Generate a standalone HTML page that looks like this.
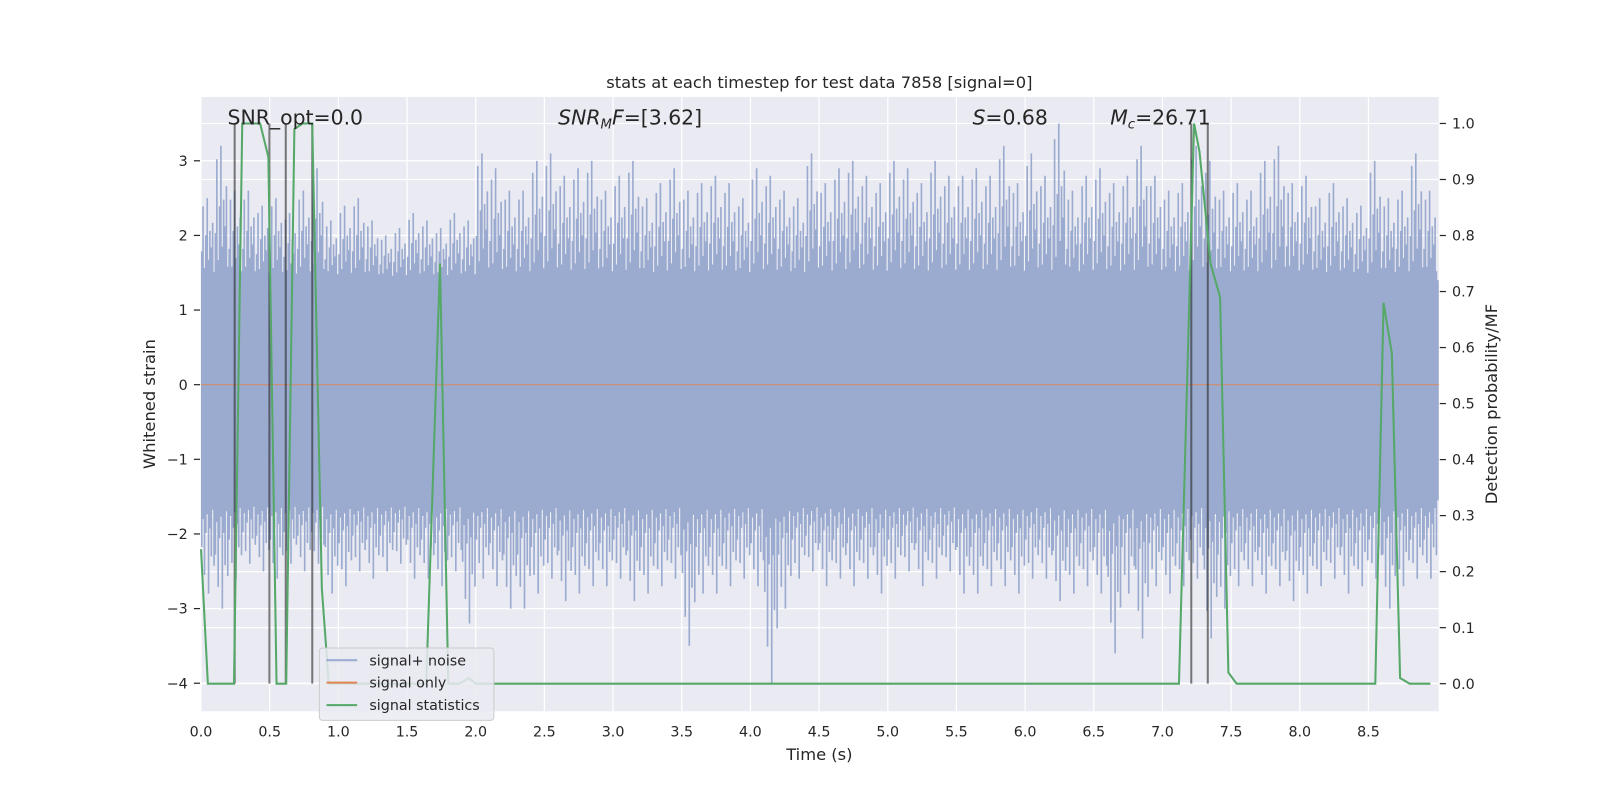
<!DOCTYPE html>
<html><head><meta charset="utf-8"><style>
html,body{margin:0;padding:0;background:#fff;overflow:hidden;width:1600px;height:800px}
svg{display:block;font-family:"DejaVu Sans","Liberation Sans",sans-serif}
</style></head><body>
<svg id="chart" width="1600" height="800" viewBox="0 0 1600 800" xmlns="http://www.w3.org/2000/svg">
<g transform="scale(1.0204)">
<rect x="197" y="95" width="1213" height="602" fill="#eaeaf2"/>
<g id="grid"></g>
<g id="noise"></g>
<line x1="197" x2="1410" y1="377" y2="377" stroke="#dd8452" stroke-width="1.2" opacity="0.8"/>
<g id="vlines"></g>
<g id="stats"></g>
<g id="ticks" font-size="14" fill="#262626"></g>
<text x="803" y="86" text-anchor="middle" font-size="16" fill="#262626">stats at each timestep for test data 7858 [signal=0]</text>
<text x="223" y="122" font-size="20" fill="#262626">SNR_opt=0.0</text>
<text x="547" y="122" font-size="20" fill="#262626"><tspan font-style="italic">SNR</tspan><tspan font-style="italic" font-size="13" dy="4">M</tspan><tspan font-style="italic" dy="-4">F</tspan>=[3.62]</text>
<text x="953" y="122" font-size="20" fill="#262626"><tspan font-style="italic">S</tspan>=0.68</text>
<text x="1088" y="122" font-size="20" fill="#262626"><tspan font-style="italic">M</tspan><tspan font-style="italic" font-size="13" dy="4">c</tspan><tspan dy="-4">=26.71</tspan></text>
<text x="803" y="745" text-anchor="middle" font-size="16" fill="#262626">Time (s)</text>
<text transform="translate(152,396) rotate(-90)" text-anchor="middle" font-size="16" fill="#262626">Whitened strain</text>
<text transform="translate(1467,396) rotate(-90)" text-anchor="middle" font-size="16" fill="#262626">Detection probability/MF</text>
<g>
<rect x="313" y="635" width="171" height="71" rx="3" fill="#eaeaf2" fill-opacity="0.85" stroke="#cccccc"/>
<line x1="320" x2="350" y1="647" y2="647" stroke="#4c72b0" stroke-opacity="0.5" stroke-width="2"/>
<text x="362" y="652" font-size="14" fill="#262626">signal+ noise</text>
<line x1="320" x2="350" y1="669" y2="669" stroke="#dd8452" stroke-width="2"/>
<text x="362" y="674" font-size="14" fill="#262626">signal only</text>
<line x1="320" x2="350" y1="691" y2="691" stroke="#55a868" stroke-width="2"/>
<text x="362" y="696" font-size="14" fill="#262626">signal statistics</text>
</g>
</g>
</svg>
<script>
const xTicks=[0,0.5,1,1.5,2,2.5,3,3.5,4,4.5,5,5.5,6,6.5,7,7.5,8,8.5];
const yLeftTicks=[-4,-3,-2,-1,0,1,2,3];
const yRightTicks=[0,0.1,0.2,0.3,0.4,0.5,0.6,0.7,0.8,0.9,1.0];
const binStart=0, binWidth=0.1;
const noiseMax=[2.5,3.2,2.6,2.6,2.4,2.5,2.3,2.6,2.9,2.2,2.4,2.5,2.2,2.0,2.1,2.3,2.2,2.1,2.3,2.2,3.1,2.9,2.6,2.6,3.0,3.1,2.8,2.9,3.0,2.6,2.8,3.0,2.5,2.7,2.9,2.6,2.7,2.8,2.7,2.5,2.9,2.8,2.6,2.5,3.1,2.7,2.9,3.0,2.8,2.7,3.0,2.9,2.7,3.0,2.8,2.8,2.9,2.8,3.2,2.7,3.1,2.8,3.5,2.6,2.8,2.9,2.7,2.8,3.2,2.8,2.6,2.7,3.2,3.0,2.6,2.7,2.6,3.0,3.2,2.7,2.8,2.5,2.7,2.5,2.4,3.0,2.5,2.6,3.1,2.6];
const noiseMin=[-2.8,-3.0,-2.6,-2.4,-2.5,-2.6,-2.4,-2.5,-2.4,-2.8,-2.7,-2.5,-2.6,-2.5,-2.4,-2.6,-2.6,-2.7,-2.5,-3.2,-2.6,-2.7,-3.0,-3.0,-2.8,-2.6,-2.9,-2.8,-2.7,-2.7,-2.6,-2.9,-2.8,-2.7,-2.6,-3.5,-2.8,-2.8,-2.7,-2.6,-2.7,-4.0,-3.0,-2.6,-2.5,-2.7,-2.6,-2.7,-2.6,-2.8,-2.6,-2.5,-2.7,-2.6,-2.5,-2.8,-2.8,-2.7,-2.7,-2.8,-2.6,-2.6,-2.9,-2.8,-2.7,-2.8,-3.6,-2.8,-3.4,-2.7,-2.8,-2.7,-2.6,-3.4,-3.0,-2.7,-2.7,-2.8,-2.7,-2.9,-2.8,-2.7,-2.6,-2.8,-2.7,-2.6,-3.0,-2.7,-2.6,-2.6];
const statTime=[0.00,0.05,0.24,0.30,0.43,0.49,0.55,0.62,0.68,0.74,0.81,0.88,0.93,1.64,1.74,1.80,1.88,1.95,2.00,7.12,7.23,7.27,7.35,7.42,7.48,7.54,8.55,8.61,8.67,8.73,8.80,8.95];
const statProb=[0.24,0.0,0.0,1.0,1.0,0.94,0.0,0.0,0.99,1.0,1.0,0.17,0.0,0.0,0.75,0.0,0.0,0.01,0.0,0.0,1.0,0.95,0.75,0.69,0.02,0.0,0.0,0.68,0.59,0.01,0.0,0.0];
const markerTimes=[0.245,0.498,0.617,0.81,7.21,7.33];
const NS="http://www.w3.org/2000/svg";
const X=t=>197+t*134.6;
const YL=v=>377-v*73.14;
const YR=p=>670-p*549;
function mk(parent,tag,attrs){const e=document.createElementNS(NS,tag);for(const k in attrs)e.setAttribute(k,attrs[k]);parent.appendChild(e);return e;}
const grid=document.getElementById('grid'),ticks=document.getElementById('ticks');
xTicks.forEach(t=>{const l=mk(grid,'line',{x1:X(t),x2:X(t),y1:95,y2:697,stroke:'#fff','stroke-width':1.2});


const tx=mk(ticks,'text',{x:X(t),y:722,'text-anchor':'middle'});tx.textContent=t.toFixed(1);

});
yLeftTicks.forEach(v=>{const l=mk(grid,'line',{x1:197,x2:1410,y1:YL(v),y2:YL(v),stroke:'#fff','stroke-width':1.2});


mk(ticks,'line',{x1:190,x2:196,y1:YL(v),y2:YL(v),stroke:'#262626','stroke-width':1.2});
const tx=mk(ticks,'text',{x:184,y:YL(v)+5,'text-anchor':'end'});tx.textContent=(v<0?'\u2212'+(-v):v);

});
yRightTicks.forEach(p=>{const l=mk(grid,'line',{x1:197,x2:1410,y1:YR(p),y2:YR(p),stroke:'#fff','stroke-width':1.2});


mk(ticks,'line',{x1:1411,x2:1417,y1:YR(p),y2:YR(p),stroke:'#262626','stroke-width':1.2});
const tx=mk(ticks,'text',{x:1423,y:YR(p)+5});tx.textContent=p.toFixed(1);

});
const noise=document.getElementById('noise');
const core=mk(noise,'rect',{x:197,y:YL(1.4),width:1213,height:YL(-1.55)-YL(1.4),fill:'#9aabcf'});


const pat=[0.35,0.9,0.15,0.55,1.0,0.25,0.6,0.4,0.7,0.1];
const patB=[0.5,0.2,0.8,0.35,0.15,1.0,0.3,0.6,0.1,0.7];
let d='';
noiseMax.forEach((mx,i)=>{const t0=binStart+i*binWidth;const mn=noiseMin[i];
for(let k=0;k<10;k++){const t=t0+(k+0.5)*binWidth/10;if(X(t)>1409)break;
const hi=1.4+(mx-1.4)*pat[k];const lo=-1.55+(mn+1.55)*patB[k];
d+=`M${X(t).toFixed(1)} ${YL(hi).toFixed(1)}V${YL(lo).toFixed(1)}`;}});
const np=mk(noise,'path',{d:d,stroke:'#9aabcf','stroke-width':1.6});


const vl=document.getElementById('vlines');
markerTimes.forEach(t=>{const l=mk(vl,'line',{x1:X(t),x2:X(t),y1:121,y2:670,stroke:'#262626','stroke-opacity':0.6,'stroke-width':2});

});
const pts=statTime.map((t,i)=>X(t).toFixed(1)+','+YR(statProb[i]).toFixed(1)).join(' ');
const pl=mk(document.getElementById('stats'),'polyline',{points:pts,fill:'none',stroke:'#55a868','stroke-width':2});


</script>
</body></html>
